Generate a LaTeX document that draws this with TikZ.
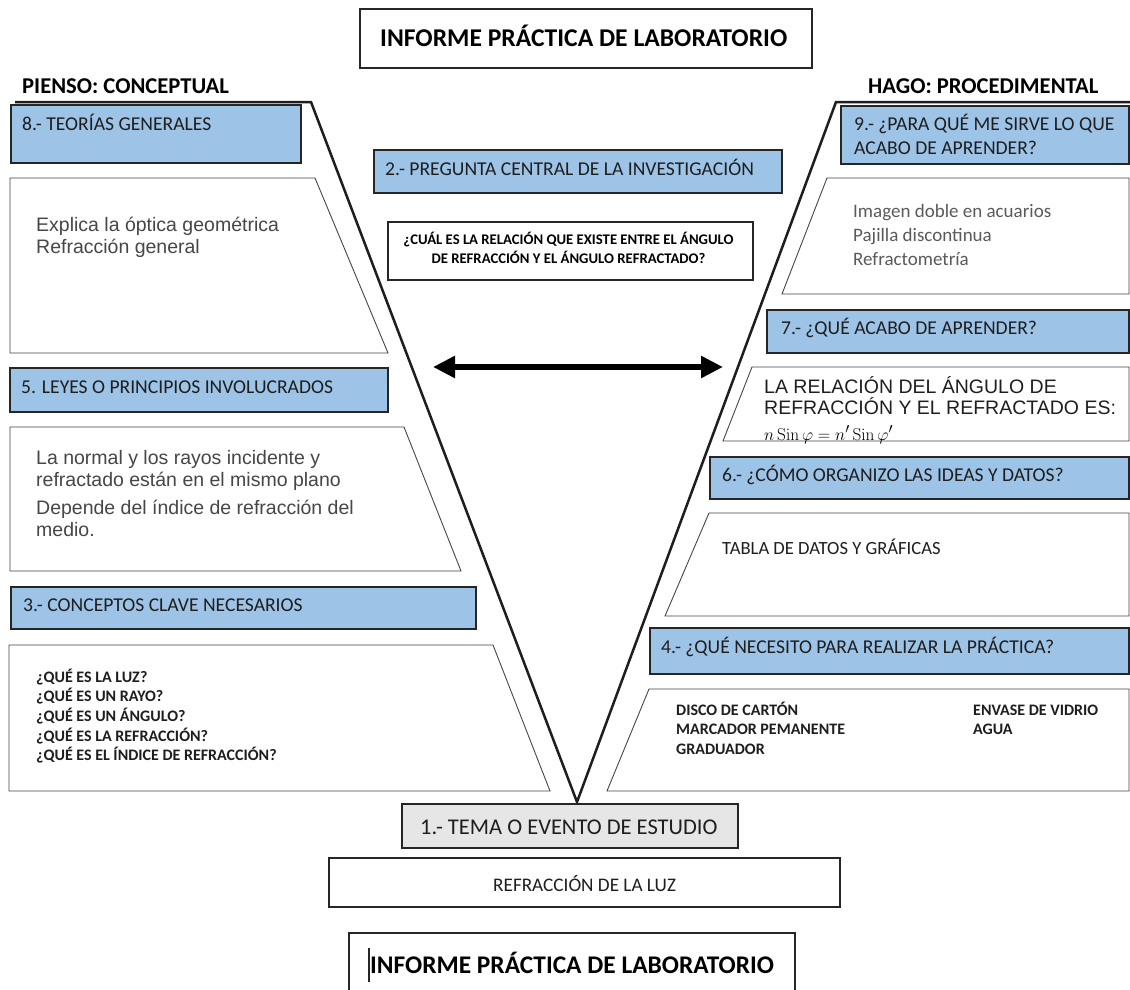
\documentclass[tikz,border=0pt]{standalone}
\usepackage[no-math]{fontspec}
\setmainfont{Carlito}
\newfontfamily\arialf{Liberation Sans}
\usetikzlibrary{arrows.meta}
\definecolor{hdrblue}{RGB}{157,195,230}
\definecolor{topicgray}{RGB}{231,230,230}
\definecolor{edgegray}{RGB}{38,38,38}
\definecolor{inkdark}{RGB}{30,30,30}
\definecolor{inkgray}{RGB}{70,70,70}
\definecolor{appgray}{RGB}{90,90,90}
% invisible strut: fixes the top of a text block one em above its first baseline
\newcommand\tstr{\rule{0pt}{1em}}
\begin{document}
\begin{tikzpicture}[x=1pt,y=-1pt,
  hdr/.style={draw=edgegray, line width=1.6pt, fill=hdrblue},
  plainbox/.style={draw=edgegray, line width=1.6pt, fill=white},
  panel/.style={draw=inkgray, line width=0.9pt, fill=white},
  vline/.style={draw=inkdark, line width=2.5pt, line join=miter},
  lbl/.style={anchor=base west, inner sep=0pt, text=inkdark},
  hdrtxt/.style={lbl, font=\fontsize{19.6}{24}\selectfont},
  titletxt/.style={lbl, font=\fontsize{25.6}{30}\selectfont\bfseries, text=black},
  sidetxt/.style={lbl, font=\fontsize{22.6}{26}\selectfont\bfseries, text=black},
  block/.style={anchor=north west, inner sep=0pt, align=left},
  ariatxt/.style={block, text=inkgray, font=\arialf\fontsize{19.5}{22.5}\selectfont},
  smallbold/.style={block, text=inkdark, font=\fontsize{16}{19.6}\selectfont\bfseries},
  dblarrow/.style={line width=6pt, {Triangle[length=22pt,width=21pt]}-{Triangle[length=22pt,width=21pt]}}
]
\clip (0,0) rectangle (1130,990);
\fill[white] (0,0) rectangle (1130,990);

% title
\draw[plainbox] (360,9) rectangle (812,68);
\node[titletxt] (title) at (380,47) {INFORME PRÁCTICA DE LABORATORIO};

% side captions
\node[sidetxt] (pienso) at (22,93) {PIENSO: CONCEPTUAL};
\node[sidetxt] (hago) at (868,93) {HAGO: PROCEDIMENTAL};

% the V
\draw[vline] (15,102) -- (311,102) -- (577,802) -- (836,102) -- (1131,102);

% ---------- conceptual side ----------
\draw[hdr] (11,105) rectangle (301,163);
\node[hdrtxt] (h8) at (22,130) {8.- TEORÍAS GENERALES};

\draw[panel] (10,178) -- (315,178) -- (388,353) -- (10,353) -- cycle;
\node[ariatxt] (teorias) at (36,211.5) {\tstr Explica la óptica geométrica\\Refracción general};

\draw[hdr] (10,368) rectangle (388,412);
\node[hdrtxt] (h5) at (21,393) {5. LEYES O PRINCIPIOS INVOLUCRADOS};

\draw[panel] (10,427) -- (404,427) -- (461,571) -- (10,571) -- cycle;
\node[ariatxt] (leyes1) at (36,444.5) {\tstr La normal y los rayos incidente y\\refractado están en el mismo plano};
\node[ariatxt] (leyes2) at (36,494.5) {\tstr Depende del índice de refracción del\\medio.};

\draw[hdr] (11,587) rectangle (476,629);
\node[hdrtxt] (h3) at (23,611) {3.- CONCEPTOS CLAVE NECESARIOS};

\draw[panel] (9,645) -- (493,645) -- (550,791) -- (9,791) -- cycle;
\node[smallbold] (conceptos) at (36,666) {\tstr ¿QUÉ ES LA LUZ?\\¿QUÉ ES UN RAYO?\\¿QUÉ ES UN ÁNGULO?\\¿QUÉ ES LA REFRACCIÓN?\\¿QUÉ ES EL ÍNDICE DE REFRACCIÓN?};

% ---------- central question ----------
\draw[hdr] (374,150) rectangle (782,193);
\node[hdrtxt] (h2) at (385,175) {2.- PREGUNTA CENTRAL DE LA INVESTIGACIÓN};

\draw[draw=edgegray, line width=1.4pt, fill=white] (388,222) rectangle (753,280);
\node[anchor=north, inner sep=0pt, align=center, text=black,
  font=\fontsize{14.7}{19}\selectfont\bfseries] (pregunta) at (568.5,229.3)
  {\tstr ¿CUÁL ES LA RELACIÓN QUE EXISTE ENTRE EL ÁNGULO\\DE REFRACCIÓN Y EL ÁNGULO REFRACTADO?};

\coordinate (arL) at (433,367);
\coordinate (arR) at (723,367);
\draw[dblarrow] (arL) -- (arR);

% ---------- procedural side ----------
\draw[hdr] (841,106) rectangle (1129,164);
\node[block, text=inkdark, font=\fontsize{19.6}{24}\selectfont] (h9) at (854,110.4)
  {\tstr 9.- ¿PARA QUÉ ME SIRVE LO QUE\\ACABO DE APRENDER?};

\draw[panel] (827,178) -- (1129,178) -- (1129,294) -- (782,294) -- cycle;
\node[block, text=appgray, font=\fontsize{19}{24}\selectfont] (usos) at (853,198)
  {\tstr Imagen doble en acuarios\\Pajilla discontinua\\Refractometría};

\draw[hdr] (767,310) rectangle (1129,353);
\node[hdrtxt] (h7) at (781,334) {7.- ¿QUÉ ACABO DE APRENDER?};

\draw[panel] (752,367) -- (1129,367) -- (1129,441) -- (723,441) -- cycle;
\node[ariatxt, text=inkdark, font=\arialf\fontsize{19.5}{21.5}\selectfont] (relacion) at (764,373.5)
  {\tstr LA RELACIÓN DEL ÁNGULO DE\\REFRACCIÓN Y EL REFRACTADO ES:};
\node[lbl, font=\fontsize{19}{21}\selectfont, text=black] (ley) at (764,440)
  {$n\,\mathrm{Sin}\,\varphi = n'\,\mathrm{Sin}\,\varphi'$};

\draw[hdr] (710,457) rectangle (1129,499);
\node[hdrtxt] (h6) at (722,481) {6.- ¿CÓMO ORGANIZO LAS IDEAS Y DATOS?};

\draw[panel] (709,513) -- (1129,513) -- (1129,616) -- (665,616) -- cycle;
\node[lbl, font=\fontsize{18.6}{22}\selectfont] (tabla) at (722,554) {TABLA DE DATOS Y GRÁFICAS};

\draw[hdr] (650,628) rectangle (1129,674);
\node[hdrtxt] (h4) at (661,653) {4.- ¿QUÉ NECESITO PARA REALIZAR LA PRÁCTICA?};

\draw[panel] (649,689) -- (1129,689) -- (1129,791) -- (607,791) -- cycle;
\node[smallbold, font=\fontsize{16}{19.5}\selectfont\bfseries] (mat1) at (676,699)
  {\tstr DISCO DE CARTÓN\\MARCADOR PEMANENTE\\GRADUADOR};
\node[smallbold, font=\fontsize{16}{19.5}\selectfont\bfseries] (mat2) at (973,699)
  {\tstr ENVASE DE VIDRIO\\AGUA};

% ---------- topic ----------
\draw[draw=edgegray, line width=1.6pt, fill=topicgray] (402,804) rectangle (738,848);
\node[lbl, font=\fontsize{22.5}{26}\selectfont] (tema) at (420,834) {1.- TEMA O EVENTO DE ESTUDIO};

\draw[plainbox] (329,858) rectangle (840,907);
\node[lbl, font=\fontsize{19.2}{22}\selectfont] (luz) at (493,891) {REFRACCIÓN DE LA LUZ};

% repeated heading at the foot
\draw[plainbox] (349,933) rectangle (795,998);
\draw[line width=1.2pt, black!85] (369,948) -- (369,982);
\node[titletxt, font=\fontsize{25.4}{30}\selectfont\bfseries] (title2) at (370,973) {INFORME PRÁCTICA DE LABORATORIO};
\end{tikzpicture}
\end{document}
